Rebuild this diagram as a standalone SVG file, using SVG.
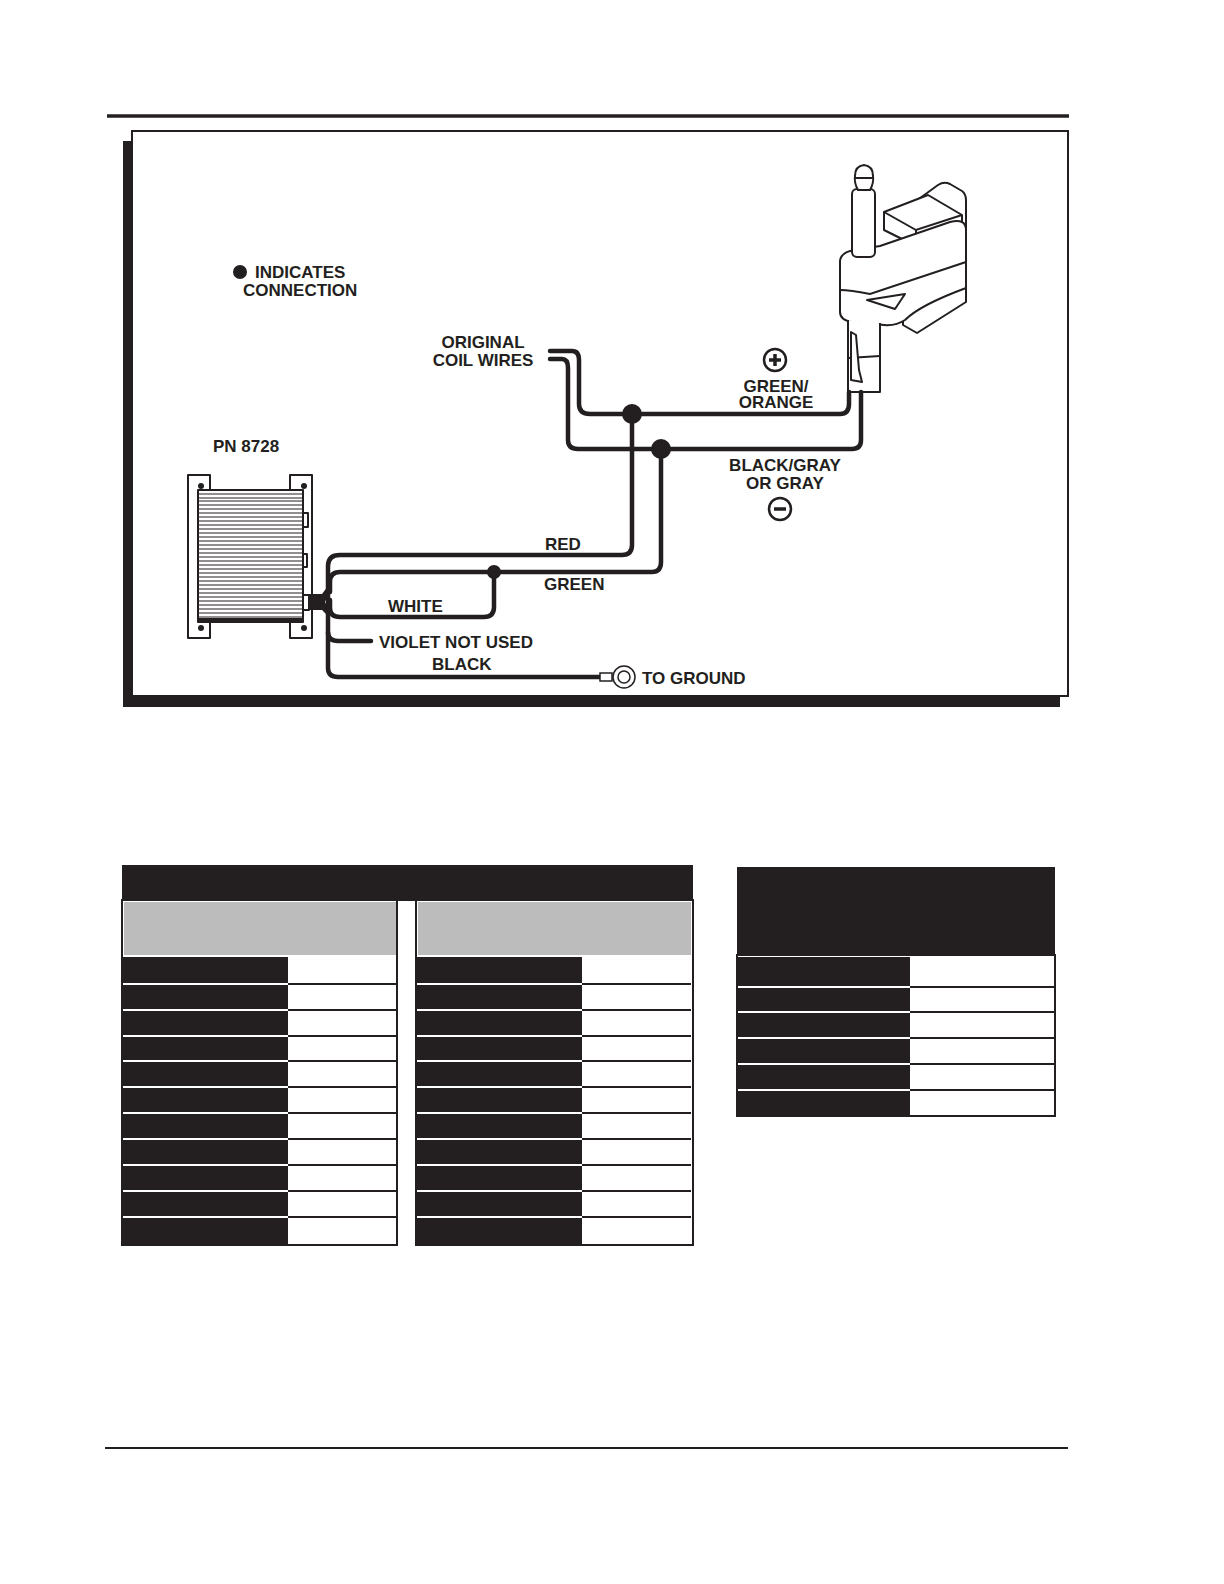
<svg xmlns="http://www.w3.org/2000/svg" width="1224" height="1584" viewBox="0 0 1224 1584">
<style>
text{font-family:"Liberation Sans",Arial,sans-serif;font-weight:bold;font-size:17px;fill:#231f20}
.w{fill:none;stroke:#231f20;stroke-width:4.5;stroke-linejoin:round;stroke-linecap:round}
.o{fill:#fff;stroke:#231f20;stroke-width:2;stroke-linejoin:round}
.blk{fill:#231f20}
.c{text-anchor:middle}
</style>
<rect width="1224" height="1584" fill="#fff"/>
<line x1="107" y1="116" x2="1069" y2="116" stroke="#231f20" stroke-width="3.5"/>
<line x1="105" y1="1448" x2="1068" y2="1448" stroke="#231f20" stroke-width="2"/>
<g id="frame">
<rect x="123" y="141" width="937" height="566" class="blk"/>
<rect x="132" y="131" width="936" height="565" fill="#fff" stroke="#231f20" stroke-width="2"/>
</g>
<g id="legend">
<circle cx="240" cy="272" r="7" class="blk"/>
<text x="255" y="278">INDICATES</text>
<text x="243" y="296">CONNECTION</text>
</g>
<g id="module">
<text x="213" y="452">PN 8728</text>
<rect x="188" y="475" width="22" height="163" class="o"/>
<rect x="290" y="475" width="22" height="163" class="o"/>
<circle cx="201" cy="486" r="3" class="blk"/><circle cx="304" cy="486" r="3" class="blk"/>
<circle cx="201" cy="628" r="3" class="blk"/><circle cx="304" cy="628" r="3" class="blk"/>
<rect x="303" y="513" width="5" height="14" class="o"/>
<rect x="303" y="554" width="4" height="13" class="o"/>
<rect x="198" y="490" width="105" height="132" class="o"/>
<g stroke="#231f20" stroke-width="1">
<line x1="198" y1="494" x2="303" y2="494"/><line x1="198" y1="498" x2="303" y2="498"/><line x1="198" y1="501" x2="303" y2="501"/><line x1="198" y1="505" x2="303" y2="505"/><line x1="198" y1="509" x2="303" y2="509"/><line x1="198" y1="513" x2="303" y2="513"/><line x1="198" y1="517" x2="303" y2="517"/><line x1="198" y1="521" x2="303" y2="521"/><line x1="198" y1="525" x2="303" y2="525"/><line x1="198" y1="529" x2="303" y2="529"/><line x1="198" y1="533" x2="303" y2="533"/><line x1="198" y1="537" x2="303" y2="537"/><line x1="198" y1="541" x2="303" y2="541"/><line x1="198" y1="545" x2="303" y2="545"/><line x1="198" y1="549" x2="303" y2="549"/><line x1="198" y1="553" x2="303" y2="553"/><line x1="198" y1="557" x2="303" y2="557"/><line x1="198" y1="561" x2="303" y2="561"/><line x1="198" y1="565" x2="303" y2="565"/><line x1="198" y1="569" x2="303" y2="569"/><line x1="198" y1="573" x2="303" y2="573"/><line x1="198" y1="577" x2="303" y2="577"/><line x1="198" y1="581" x2="303" y2="581"/><line x1="198" y1="585" x2="303" y2="585"/><line x1="198" y1="589" x2="303" y2="589"/><line x1="198" y1="593" x2="303" y2="593"/><line x1="198" y1="597" x2="303" y2="597"/><line x1="198" y1="601" x2="303" y2="601"/><line x1="198" y1="605" x2="303" y2="605"/><line x1="198" y1="609" x2="303" y2="609"/><line x1="198" y1="613" x2="303" y2="613"/><line x1="198" y1="617" x2="303" y2="617"/>
</g>
<rect x="198" y="618" width="105" height="4" class="blk"/>
<rect x="303" y="595" width="6" height="15" class="o"/>
<path d="M309 594 L322 594 L328 586 L330 590 L325 602 L330 612 L328 616 L322 610 L309 610 Z" class="blk"/>
</g>
<g id="coil">
<path d="M890 220 L938 185 Q944 181 950 184 L962 191 Q966 194 966 200 L966 302 L917 333 L903 325 L903 240 Z" class="o"/>
<path d="M884 212 L928 195 L962 215 L962 228 L916 246 L884 230 Z" class="o"/>
<path d="M884 212 L916 230 L962 215 M916 230 L916 246" fill="none" stroke="#231f20" stroke-width="2"/>
<path d="M840 262 Q840 252 855 250 L880 246 L950 222 Q966 218 966 230 L966 288 Q920 305 905 320 Q896 326 884 325 L852 322 Q840 320 840 312 Z" class="o"/>
<path d="M840 290 Q850 290 870 294 L966 262" fill="none" stroke="#231f20" stroke-width="2"/>
<path d="M867 300 L905 294 L895 309 Z" class="o"/>
<path d="M848 320 L848 392 L880 392 L880 323" class="o"/>
<line x1="848" y1="358" x2="880" y2="356" stroke="#231f20" stroke-width="2"/>
<path d="M851 332 L851 380 L862 382 L859 370 L856 335 Z" class="o"/>
<rect x="852" y="189" width="23" height="68" rx="5" class="o"/>
<path d="M855 176 Q855 166 864 165 Q873 166 873 176 Q874 183 870 190 L858 190 Q854 183 855 176 Z" class="o"/>
<line x1="855" y1="178" x2="873" y2="178" stroke="#231f20" stroke-width="2"/>
</g>
<g id="labels">
<text x="483" y="348" class="c">ORIGINAL</text>
<text x="483" y="366" class="c">COIL WIRES</text>
<text x="776" y="392" class="c">GREEN/</text>
<text x="776" y="408" class="c">ORANGE</text>
<text x="785" y="471" class="c">BLACK/GRAY</text>
<text x="785" y="489" class="c">OR GRAY</text>
<text x="545" y="550">RED</text>
<text x="544" y="590">GREEN</text>
<text x="388" y="612">WHITE</text>
<text x="379" y="648">VIOLET NOT USED</text>
<text x="432" y="670">BLACK</text>
<text x="642" y="684">TO GROUND</text>
<circle cx="775" cy="360" r="11" fill="#fff" stroke="#231f20" stroke-width="2.5"/>
<path d="M775 354 V366 M769 360 H781" stroke="#231f20" stroke-width="3.5"/>
<circle cx="780" cy="509" r="11" fill="#fff" stroke="#231f20" stroke-width="2.5"/>
<path d="M774 509 H786" stroke="#231f20" stroke-width="3.5"/>
</g>
<g id="connectors">
<path class="w" d="M550 351 H572 Q579 351 579 360 V404 Q579 414 590 414 H840 Q849 414 849 404 V392"/>
<path class="w" d="M550 359 H562 Q568 359 568 368 V440 Q568 449 578 449 H852 Q861 449 861 440 V392"/>
<path class="w" d="M632 414 V545 Q632 555 622 555 H340 Q328 555 328 566 V668 Q328 677 338 677 H600"/>
<path class="w" d="M661 449 V562 Q661 572 652 572 H340 Q330 572 330 582 V592"/>
<path class="w" d="M494 572 V607 Q494 617 484 617 H340 Q330 617 330 608 V600"/>
<path class="w" d="M328 632 Q328 641 338 641 H371"/>
<circle cx="632" cy="414" r="10" class="blk"/>
<circle cx="661" cy="449" r="10" class="blk"/>
<circle cx="494" cy="572" r="7" class="blk"/>
<rect x="600" y="673" width="12" height="8" fill="#fff" stroke="#231f20" stroke-width="1.5"/>
<circle cx="624" cy="677" r="11" fill="#fff" stroke="#231f20" stroke-width="1.5"/>
<circle cx="624" cy="677" r="6" fill="#fff" stroke="#231f20" stroke-width="1.5"/>
</g>
<g id="table1">
<rect x="122" y="865" width="571" height="36" class="blk"/>
<rect x="122" y="900" width="275" height="345" fill="#fff" stroke="#231f20" stroke-width="2"/>
<rect x="416" y="900" width="277" height="345" fill="#fff" stroke="#231f20" stroke-width="2"/>
<rect x="124" y="902" width="272" height="53" fill="#bcbcbc"/>
<rect x="418" y="902" width="273" height="53" fill="#bcbcbc"/>
<g class="blk">
<rect x="122" y="957" width="166" height="26"/><rect x="122" y="985" width="166" height="24"/><rect x="122" y="1011" width="166" height="24"/><rect x="122" y="1037" width="166" height="23"/><rect x="122" y="1062" width="166" height="24"/><rect x="122" y="1088" width="166" height="24"/><rect x="122" y="1114" width="166" height="24"/><rect x="122" y="1140" width="166" height="24"/><rect x="122" y="1166" width="166" height="24"/><rect x="122" y="1192" width="166" height="24"/><rect x="122" y="1218" width="166" height="27"/>
<rect x="416" y="957" width="166" height="26"/><rect x="416" y="985" width="166" height="24"/><rect x="416" y="1011" width="166" height="24"/><rect x="416" y="1037" width="166" height="23"/><rect x="416" y="1062" width="166" height="24"/><rect x="416" y="1088" width="166" height="24"/><rect x="416" y="1114" width="166" height="24"/><rect x="416" y="1140" width="166" height="24"/><rect x="416" y="1166" width="166" height="24"/><rect x="416" y="1192" width="166" height="24"/><rect x="416" y="1218" width="166" height="27"/>
</g>
<g stroke="#231f20" stroke-width="2">
<path d="M288 984H396M288 1010H396M288 1036H396M288 1061H396M288 1087H396M288 1113H396M288 1139H396M288 1165H396M288 1191H396M288 1217H396"/>
<path d="M582 984H691M582 1010H691M582 1036H691M582 1061H691M582 1087H691M582 1113H691M582 1139H691M582 1165H691M582 1191H691M582 1217H691"/>
</g>
</g>
<g id="table2">
<rect x="737" y="867" width="318" height="88" class="blk"/>
<rect x="737" y="955" width="318" height="161" fill="#fff" stroke="#231f20" stroke-width="2"/>
<g class="blk">
<rect x="737" y="957" width="173" height="29"/><rect x="737" y="988" width="173" height="23"/><rect x="737" y="1013" width="173" height="24"/><rect x="737" y="1039" width="173" height="24"/><rect x="737" y="1065" width="173" height="24"/><rect x="737" y="1091" width="173" height="25"/>
</g>
<path d="M910 987H1055M910 1012H1055M910 1038H1055M910 1064H1055M910 1090H1055" stroke="#231f20" stroke-width="2"/>
</g>
</svg>
